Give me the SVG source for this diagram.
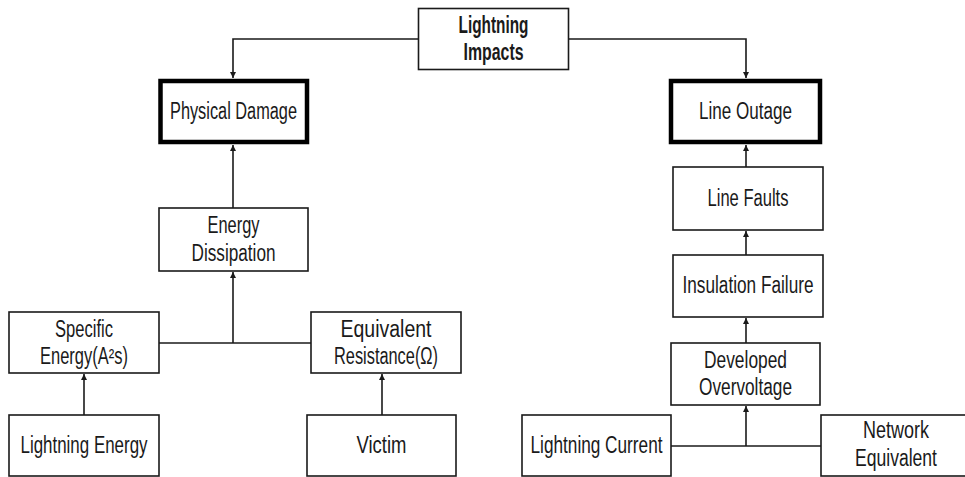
<svg xmlns="http://www.w3.org/2000/svg" width="965" height="477" viewBox="0 0 965 477">
<style>
.box{fill:#fff;stroke:#1a1a1a;stroke-width:1.6}
.thick{fill:#fff;stroke:#000;stroke-width:4.5}
.t{font-family:"Liberation Sans",Arial,sans-serif;font-size:23px;fill:#1a1a1a;text-anchor:middle}
.b{font-weight:bold}
.c{fill:none;stroke:#1a1a1a;stroke-width:1.6}
</style>
<defs>
<marker id="ah" viewBox="0 0 8 8" refX="8" refY="4" markerWidth="6" markerHeight="6" markerUnits="userSpaceOnUse" orient="auto">
<path d="M0,0 L8,4 L0,8 z" fill="#1a1a1a"/>
</marker>
</defs>
<g id="connectors">
<path class="c" d="M418,39 H233 V78" marker-end="url(#ah)"/>
<path class="c" d="M569,39 H746 V78" marker-end="url(#ah)"/>
<path class="c" d="M233,208 V145" marker-end="url(#ah)"/>
<path class="c" d="M746,167 V145" marker-end="url(#ah)"/>
<path class="c" d="M746,255 V231" marker-end="url(#ah)"/>
<path class="c" d="M746,343 V318" marker-end="url(#ah)"/>
<path class="c" d="M159,343 H311"/>
<path class="c" d="M233,343 V272" marker-end="url(#ah)"/>
<path class="c" d="M84,415 V374" marker-end="url(#ah)"/>
<path class="c" d="M382,415 V374" marker-end="url(#ah)"/>
<path class="c" d="M671,446 H821"/>
<path class="c" d="M746,446 V406" marker-end="url(#ah)"/>
</g>
<g id="lightning-impacts">
<rect class="box" x="418.5" y="8.5" width="150" height="61"/>
<text class="t b" x="493.5" y="33" textLength="70" lengthAdjust="spacingAndGlyphs">Lightning</text>
<text class="t b" x="493.5" y="60" textLength="60" lengthAdjust="spacingAndGlyphs">Impacts</text>
</g>
<g id="physical-damage">
<rect class="thick" x="160.5" y="81" width="146.5" height="61"/>
<text class="t" x="233.5" y="119" textLength="127" lengthAdjust="spacingAndGlyphs">Physical Damage</text>
</g>
<g id="line-outage">
<rect class="thick" x="671" y="81" width="149" height="61"/>
<text class="t" x="745.5" y="119" textLength="93" lengthAdjust="spacingAndGlyphs">Line Outage</text>
</g>
<g id="energy-dissipation">
<rect class="box" x="159" y="208" width="149" height="63"/>
<text class="t" x="233.5" y="233" textLength="52" lengthAdjust="spacingAndGlyphs">Energy</text>
<text class="t" x="233.5" y="261" textLength="84" lengthAdjust="spacingAndGlyphs">Dissipation</text>
</g>
<g id="line-faults">
<rect class="box" x="673" y="167" width="150" height="63"/>
<text class="t" x="748" y="206" textLength="81" lengthAdjust="spacingAndGlyphs">Line Faults</text>
</g>
<g id="insulation-failure">
<rect class="box" x="673" y="255" width="150" height="62"/>
<text class="t" x="748" y="293" textLength="131" lengthAdjust="spacingAndGlyphs">Insulation Failure</text>
</g>
<g id="developed-overvoltage">
<rect class="box" x="671" y="343" width="149" height="62"/>
<text class="t" x="745.5" y="368" textLength="83" lengthAdjust="spacingAndGlyphs">Developed</text>
<text class="t" x="745.5" y="395" textLength="93" lengthAdjust="spacingAndGlyphs">Overvoltage</text>
</g>
<g id="specific-energy">
<rect class="box" x="9" y="312" width="150" height="61"/>
<text class="t" x="84" y="337" textLength="58" lengthAdjust="spacingAndGlyphs">Specific</text>
<text class="t" x="84" y="364" textLength="88" lengthAdjust="spacingAndGlyphs">Energy(A²s)</text>
</g>
<g id="equivalent-resistance">
<rect class="box" x="311" y="312" width="150" height="61"/>
<text class="t" x="386" y="337" textLength="91" lengthAdjust="spacingAndGlyphs">Equivalent</text>
<text class="t" x="386" y="364" textLength="104" lengthAdjust="spacingAndGlyphs">Resistance(Ω)</text>
</g>
<g id="lightning-energy">
<rect class="box" x="9" y="415" width="150" height="61"/>
<text class="t" x="84" y="453" textLength="127" lengthAdjust="spacingAndGlyphs">Lightning Energy</text>
</g>
<g id="victim">
<rect class="box" x="307" y="415" width="149" height="61"/>
<text class="t" x="381.5" y="453" textLength="50" lengthAdjust="spacingAndGlyphs">Victim</text>
</g>
<g id="lightning-current">
<rect class="box" x="522" y="415" width="149" height="61"/>
<text class="t" x="596.5" y="453" textLength="132" lengthAdjust="spacingAndGlyphs">Lightning Current</text>
</g>
<g id="network-equivalent">
<rect class="box" x="821" y="415" width="150" height="61"/>
<text class="t" x="896" y="438" textLength="66" lengthAdjust="spacingAndGlyphs">Network</text>
<text class="t" x="896" y="466" textLength="82" lengthAdjust="spacingAndGlyphs">Equivalent</text>
</g>
</svg>
